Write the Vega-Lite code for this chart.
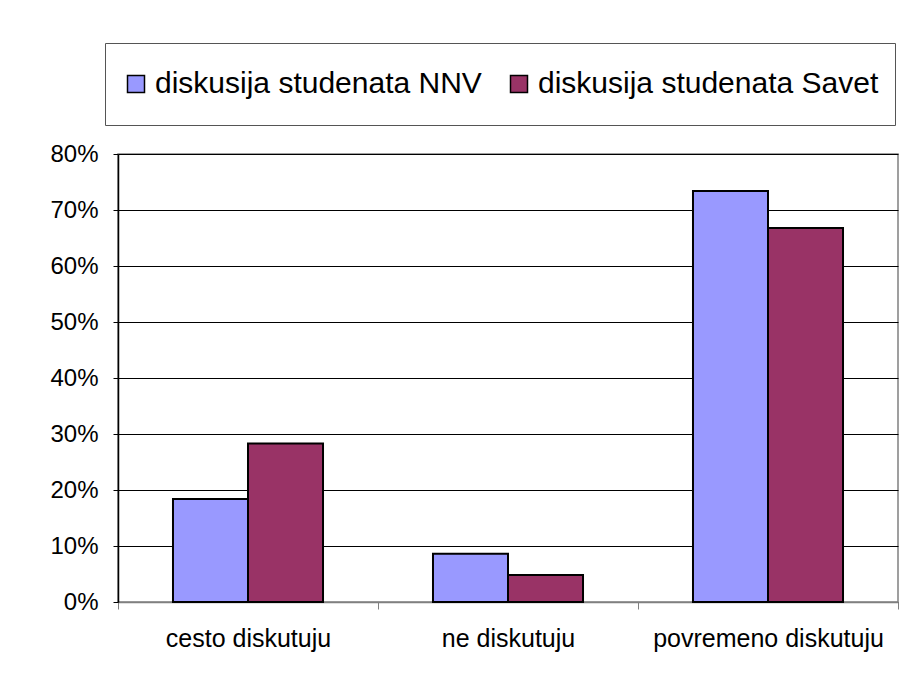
{
  "$schema": "https://vega.github.io/schema/vega-lite/v6.json",
  "autosize": {"type": "none"},
  "width": 780,
  "height": 448,
  "padding": {"left": 118, "top": 154, "right": 8, "bottom": 77},
  "background": "white",
  "data": {
    "values": [
      {"category": "cesto diskutuju", "series": "diskusija studenata NNV", "value": 0.184},
      {"category": "cesto diskutuju", "series": "diskusija studenata Savet", "value": 0.283},
      {"category": "ne diskutuju", "series": "diskusija studenata NNV", "value": 0.086},
      {"category": "ne diskutuju", "series": "diskusija studenata Savet", "value": 0.048},
      {"category": "povremeno diskutuju", "series": "diskusija studenata NNV", "value": 0.734},
      {"category": "povremeno diskutuju", "series": "diskusija studenata Savet", "value": 0.668}
    ]
  },
  "mark": {"type": "bar", "stroke": "#000000", "strokeWidth": 2},
  "encoding": {
    "x": {
      "field": "category",
      "type": "nominal",
      "sort": null,
      "scale": {"paddingInner": 0, "paddingOuter": 0},
      "axis": {
        "title": null,
        "labelAngle": 0,
        "labelFont": "Liberation Sans",
        "labelFontSize": 25,
        "labelColor": "#000000",
        "labelLimit": 0,
        "labelPadding": 17,
        "tickBand": "extent",
        "tickSize": 7,
        "tickColor": "#808080",
        "domainColor": "#808080",
        "domainWidth": 1.5
      }
    },
    "xOffset": {
      "field": "series",
      "type": "nominal",
      "scale": {"paddingInner": 0, "paddingOuter": 0.733}
    },
    "y": {
      "field": "value",
      "type": "quantitative",
      "scale": {"domain": [0, 0.8], "nice": false},
      "axis": {
        "title": null,
        "format": "%",
        "values": [0, 0.1, 0.2, 0.3, 0.4, 0.5, 0.6, 0.7, 0.8],
        "labelFont": "Liberation Sans",
        "labelFontSize": 24,
        "labelColor": "#000000",
        "labelPadding": 15,
        "tickSize": 5,
        "tickColor": "#000000",
        "domainColor": "#000000",
        "domainWidth": 1.5,
        "grid": true,
        "gridColor": "#000000",
        "gridWidth": 1
      }
    },
    "color": {
      "field": "series",
      "type": "nominal",
      "scale": {
        "domain": ["diskusija studenata NNV", "diskusija studenata Savet"],
        "range": ["#9999FF", "#993366"]
      },
      "legend": {
        "title": null,
        "orient": "none",
        "legendX": -13,
        "legendY": -111,
        "direction": "horizontal",
        "symbolType": "square",
        "symbolSize": 289,
        "symbolStrokeColor": "#000000",
        "symbolStrokeWidth": 1.5,
        "labelFont": "Liberation Sans",
        "labelFontSize": 30,
        "labelColor": "#000000",
        "labelLimit": 0,
        "labelOffset": 4,
        "columnPadding": 22,
        "clipHeight": 50,
        "padding": 16,
        "strokeColor": "#555555",
        "fillColor": "#ffffff"
      }
    }
  },
  "config": {
    "view": {"stroke": "#808080", "strokeWidth": 1.5}
  }
}
